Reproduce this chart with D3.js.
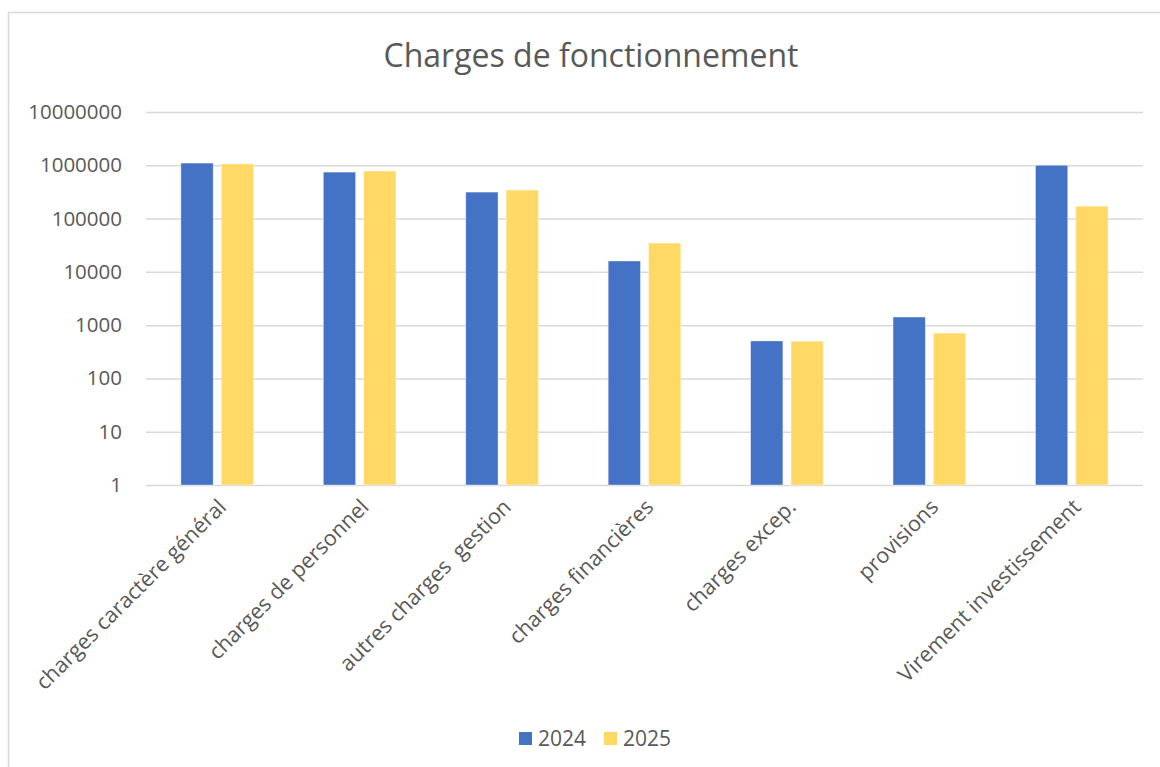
<!DOCTYPE html>
<html>
<head>
<meta charset="utf-8">
<script src="https://cdn.jsdelivr.net/npm/d3@7"></script>
<style>
  body { margin: 0; background: #fff; }
  text { font-family: "Open Sans", Lato, sans-serif; fill: #595959; white-space: pre; }
</style>
</head>
<body>
<div id="chart"></div>
<script>
// categories and series
const categories = [
  "charges caractère général",
  "charges de personnel",
  "autres charges  gestion",
  "charges financières",
  "charges excep.",
  "provisions",
  "Virement investissement"
];
const seriesNames = ["2024", "2025"];
const values2024 = [1100000, 745000, 314000, 16000, 505, 1420, 1000000];
const values2025 = [1060000, 780000, 343000, 34700, 500, 710, 171000];
const yTicks = [1, 10, 100, 1000, 10000, 100000, 1000000, 10000000];
const colors = ["#4472C4", "#FFD966"];

const W = 1160, H = 767;
const margin = { top: 112, right: 17, bottom: 282, left: 146 };
const width = W - margin.left - margin.right;
const height = H - margin.top - margin.bottom;

const svg = d3.select("#chart").append("svg")
  .attr("width", W).attr("height", H);

// outer frame
svg.append("rect")
  .attr("x", 8.5).attr("y", 12.5)
  .attr("width", W + 10).attr("height", H + 10)
  .attr("fill", "none").attr("stroke", "#d9d9d9").attr("stroke-width", 1.5);

// title
svg.append("text")
  .attr("x", 591).attr("y", 67)
  .attr("text-anchor", "middle")
  .style("font-size", "32px")
  .text("Charges de fonctionnement");

const g = svg.append("g").attr("transform", `translate(${margin.left},${margin.top})`);

const x = d3.scaleBand().domain(categories).range([0, width]).paddingInner(0).paddingOuter(0);
const xs = d3.scaleBand().domain(seriesNames).range([x.bandwidth() * 0.245, x.bandwidth() * 0.755]).paddingInner(0.2);
const y = d3.scaleLog().domain([1, 10000000]).range([height, 0]);

// gridlines
g.append("g")
  .call(d3.axisLeft(y).tickValues(yTicks).tickSize(-width).tickFormat(""))
  .call(s => s.select(".domain").remove())
  .selectAll("line")
  .attr("stroke", "#d9d9d9").attr("stroke-width", 1.5);

// y labels
g.append("g")
  .call(d3.axisLeft(y).tickValues(yTicks).tickSize(0).tickPadding(24).tickFormat(d3.format("d")))
  .call(s => s.select(".domain").remove())
  .selectAll("text")
  .style("font-size", "20.5px")
  .attr("fill", "#595959");

// bars
const data = categories.map((c, i) => ({ cat: c, vals: [values2024[i], values2025[i]] }));
const groups = g.selectAll(".grp").data(data).enter().append("g")
  .attr("transform", d => `translate(${x(d.cat)},0)`);
groups.selectAll("rect")
  .data(d => d.vals.map((v, j) => ({ key: seriesNames[j], v, j })))
  .enter().append("rect")
  .attr("x", d => xs(d.key))
  .attr("width", xs.bandwidth())
  .attr("y", d => y(d.v))
  .attr("height", d => height - y(d.v))
  .attr("fill", d => colors[d.j])
  .attr("stroke", "#fff").attr("stroke-opacity", 0.5).attr("stroke-width", 0.75);

// x labels
g.append("g")
  .attr("transform", `translate(0,${height})`)
  .call(d3.axisBottom(x).tickSize(0).tickPadding(0))
  .call(s => s.select(".domain").remove())
  .selectAll("text")
  .style("font-size", "21.5px")
  .attr("fill", "#595959")
  .attr("text-anchor", "end")
  .attr("dy", "0.35em")
  .attr("transform", "translate(5,18) rotate(-45)");

// legend
const legend = svg.append("g").attr("transform", "translate(519,732)");
seriesNames.forEach((s, i) => {
  const item = legend.append("g").attr("transform", `translate(${i * 85},0)`);
  item.append("rect").attr("width", 13).attr("height", 13).attr("fill", colors[i]);
  item.append("text").attr("x", 19).attr("y", 14).style("font-size", "21px").text(s);
});
</script>
</body>
</html>
